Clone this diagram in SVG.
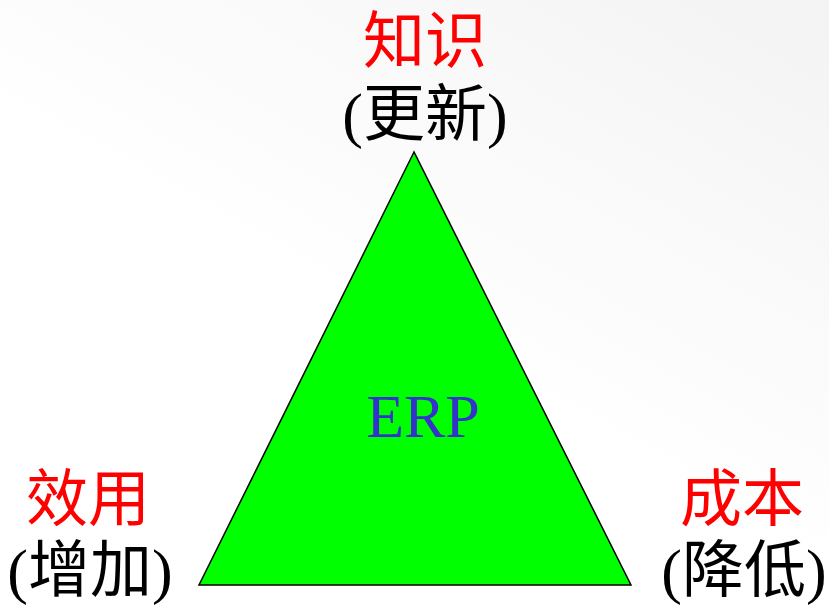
<svg xmlns="http://www.w3.org/2000/svg" width="829" height="609" viewBox="0 0 829 609">
<defs>
<linearGradient id="bg" x1="1" y1="0" x2="0.55" y2="0.6">
<stop offset="0" stop-color="#f3f3f3"/>
<stop offset="1" stop-color="#ffffff"/>
</linearGradient>
<style>
text{font-family:"Liberation Serif","Noto Sans CJK SC",serif;font-size:62px;text-anchor:middle}
.red{fill:#ff0000}
.blk{fill:#000000}
.blue{fill:#3333cc}
</style>
</defs>
<rect width="829" height="609" fill="url(#bg)"/>
<g id="triangle">
<polygon points="414,152 199,585 631,585" fill="#00ff00" stroke="#000" stroke-width="1.5"/>
<text class="blue" x="423" y="437">ERP</text>
</g>
<g id="top">
<text class="red" x="425" y="63">知识</text>
<text class="blk" x="425" y="136">(更新)</text>
</g>
<g id="left">
<text class="red" x="88" y="521">效用</text>
<text class="blk" x="90" y="592">(增加)</text>
</g>
<g id="right">
<text class="red" x="742" y="521">成本</text>
<text class="blk" x="744" y="592">(降低)</text>
</g>
<g id="connectors"></g>
</svg>
